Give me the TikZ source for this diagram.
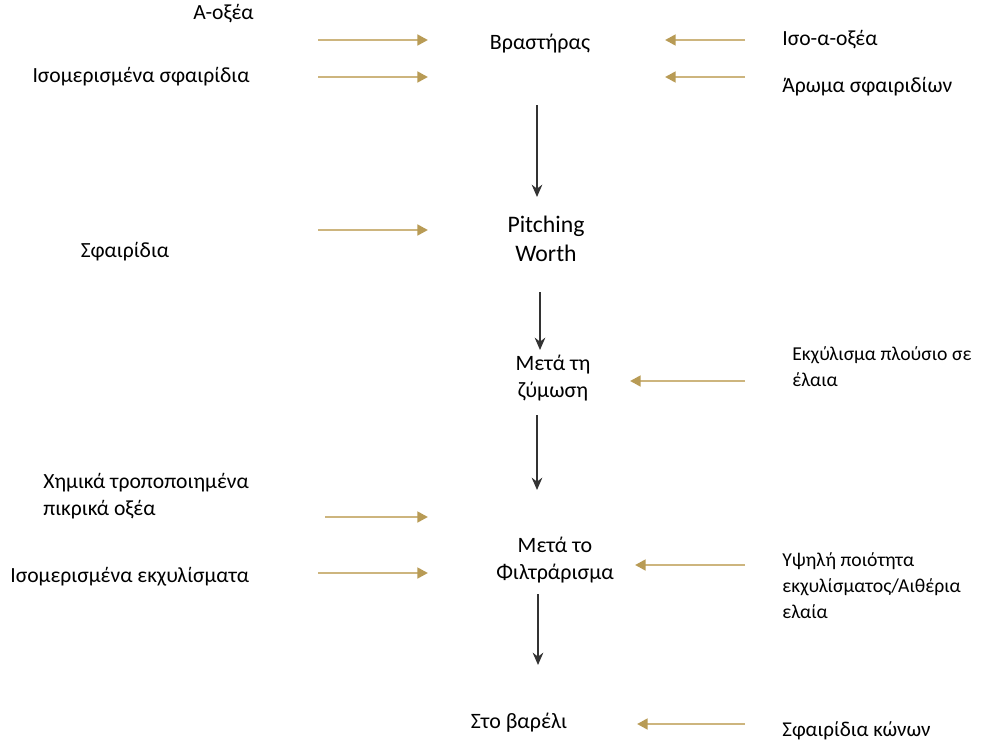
\documentclass[tikz,border=0pt]{standalone}
\usepackage{fontspec}
\setmainfont{Carlito}
\usetikzlibrary{arrows.meta}
\definecolor{Gold}  {HTML}{CDB57E}
\definecolor{GoldD} {HTML}{B89B55}
\definecolor{Ink}   {HTML}{333333}
\tikzset{
  stage/.style={
    font=\fontsize{12.5}{15.5}\selectfont, align=center,
    inner sep=0pt,
  },
  feed/.style={
    font=\fontsize{12.3}{15.5}\selectfont, align=left,
    inner sep=0pt,
  },
  sfeed/.style={
    feed, font=\fontsize{11.2}{14.8}\selectfont,
  },
  flow/.style={
    -{Stealth[length=7pt,width=6pt]},
    line width=1.4pt, color=Ink,
  },
  hop/.style={
    -{Triangle[length=6pt,width=6pt,color=GoldD]},
    line width=1.6pt, color=Gold,
  },
}
\begin{document}
\begin{tikzpicture}[x=0.02cm,y=-0.02cm]
  \useasboundingbox (0,0) rectangle (984,747);
  % process stages
  \node[stage] (kettle) at (540,44)  {Βραστήρας};
  \node[stage, font=\fontsize{13.5}{16.5}\selectfont] (pitch) at (546,239) {Pitching\\Worth};
  \node[stage] (ferm)   at (553,378) {Μετά τη\\ζύμωση};
  \node[stage] (filt)   at (555,560) {Μετά το\\Φιλτράρισμα};
  \node[stage] (barrel) at (519,723) {Στο βαρέλι};
  % hop products, left side
  \node[feed, anchor=east] (alpha)  at (254,14)  {Α-οξέα};
  \node[feed, anchor=east] (isopel) at (250,77)  {Ισομερισμένα σφαιρίδια};
  \node[feed] (pellet) at (125,252) {Σφαιρίδια};
  \node[feed, anchor=west] (chem)   at (43,496)  {Χημικά τροποποιημένα\\πικρικά οξέα};
  \node[feed, anchor=west] (isoext) at (10,577)  {Ισομερισμένα εκχυλίσματα};
  % hop products, right side
  \node[feed, anchor=west]  (isoalpha) at (782,40)  {Ισο-α-οξέα};
  \node[feed, anchor=west]  (aroma)    at (782,87)  {Άρωμα σφαιριδίων};
  \node[sfeed, anchor=west] (oilext)   at (792,367) {Εκχύλισμα πλούσιο σε\\έλαια};
  \node[sfeed, anchor=west] (quality)  at (782,586) {Υψηλή ποιότητα\\εκχυλίσματος/Αιθέρια\\ελαία};
  \node[sfeed, anchor=west, font=\fontsize{12}{15}\selectfont] (cones) at (782,731) {Σφαιρίδια κώνων};
  % main flow
  \foreach \n/\xa/\ya/\yb in {a/537/105/197, b/540/292/350, c/537/415/490, d/538/594/665}{
    \coordinate (s\n) at (\xa,\ya);
    \coordinate (e\n) at (\xa,\yb);
    \draw[flow] (s\n) -- (e\n);
  }
  % additions from left
  \foreach \n/\xa/\xb/\y in {a/318/428/40, b/318/428/77, c/318/428/230, d/325/428/517, e/318/428/573}{
    \coordinate (lf\n) at (\xa,\y);
    \coordinate (lt\n) at (\xb,\y);
    \draw[hop] (lf\n) -- (lt\n);
  }
  % additions from right
  \foreach \n/\xa/\xb/\y in {a/745/665/40, b/745/665/77, c/745/630/381, d/745/635/565, e/745/637/724}{
    \coordinate (rf\n) at (\xa,\y);
    \coordinate (rt\n) at (\xb,\y);
    \draw[hop] (rf\n) -- (rt\n);
  }
\end{tikzpicture}
\end{document}
